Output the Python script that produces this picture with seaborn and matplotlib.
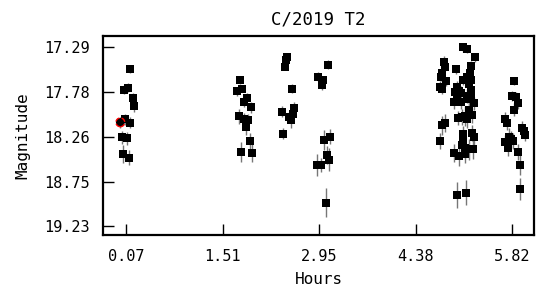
import numpy as np
import pandas as pd
import matplotlib
matplotlib.use("Agg")
import matplotlib.pyplot as plt
import seaborn as sns

hours = [
    0.13, 0.04, 0.10, 0.17, 0.19, 0.05, 0.13, 0.01, 0.08, 0.02, 0.11,
    1.76, 1.72, 1.80, 1.87, 1.82, 1.93, 1.75, 1.83, 1.89, 1.85, 1.92, 1.78, 1.95,
    2.47, 2.45, 2.44, 2.54, 2.39, 2.57, 2.50, 2.55, 2.53, 2.41,
    3.08, 2.93, 3.00, 2.98, 3.02, 3.11, 3.06, 3.09, 2.92, 2.97, 3.05,
    5.09, 5.15, 5.26, 4.80, 4.82, 4.98, 5.20, 4.78, 5.19, 4.76, 4.83, 5.09,
    5.15, 5.21, 5.18, 4.74, 4.78, 4.99, 5.20, 4.96, 5.03, 5.06, 4.99, 5.15,
    5.20, 5.17, 4.95, 5.05, 5.25, 5.17, 5.01, 5.07, 5.11, 5.22, 5.14, 4.82,
    4.77, 5.08, 5.22, 5.25, 4.74, 5.09, 5.07, 5.11, 5.18, 5.24, 4.95, 5.03,
    5.12, 4.99, 5.13,
    5.84, 5.81, 5.88, 5.91, 5.85, 5.71, 5.74, 5.97, 5.99, 6.01, 5.77, 5.80,
    5.83, 5.71, 5.75, 5.90, 5.93, 5.94,
]
mags = [
    17.53, 17.75, 17.73, 17.84, 17.93, 18.07, 18.11, 18.27, 18.28, 18.45, 18.49,
    17.65, 17.77, 17.74, 17.84, 17.88, 17.94, 18.04, 18.07, 18.08, 18.16, 18.31, 18.43, 18.44,
    17.40, 17.43, 17.50, 17.74, 17.99, 17.95, 18.05, 18.01, 18.08, 18.23,
    17.48, 17.61, 17.65, 17.70, 18.30, 18.26, 18.46, 18.51, 18.57, 18.57, 18.98,
    17.29, 17.31, 17.40, 17.45, 17.50, 17.53, 17.49, 17.57, 17.57, 17.61, 17.66, 17.65,
    17.61, 17.65, 17.69, 17.72, 17.74, 17.72, 17.75, 17.78, 17.76, 17.79, 17.81, 17.82,
    17.81, 17.85, 17.89, 17.89, 17.90, 17.97, 18.06, 18.05, 18.04, 18.03, 18.07, 18.11,
    18.14, 18.23, 18.22, 18.27, 18.31, 18.30, 18.35, 18.39, 18.40, 18.40, 18.44, 18.47,
    18.45, 18.90, 18.87,
    17.66, 17.82, 17.83, 17.90, 17.97, 18.07, 18.11, 18.17, 18.20, 18.24, 18.26, 18.29,
    18.31, 18.32, 18.38, 18.43, 18.57, 18.83,
]
errors = [
    0.04, 0.05, 0.05, 0.05, 0.06, 0.06, 0.06, 0.07, 0.07, 0.10, 0.08,
    0.04, 0.05, 0.04, 0.05, 0.06, 0.06, 0.08, 0.07, 0.07, 0.08, 0.09, 0.11, 0.10,
    0.03, 0.03, 0.04, 0.05, 0.06, 0.07, 0.06, 0.07, 0.09, 0.06,
    0.05, 0.05, 0.05, 0.05, 0.11, 0.08, 0.10, 0.12, 0.12, 0.08, 0.16,
    0.05, 0.04, 0.05, 0.06, 0.05, 0.05, 0.05, 0.06, 0.05, 0.05, 0.05, 0.05,
    0.05, 0.05, 0.06, 0.06, 0.06, 0.06, 0.07, 0.06, 0.07, 0.08, 0.07, 0.08,
    0.07, 0.07, 0.07, 0.07, 0.07, 0.08, 0.08, 0.09, 0.11, 0.08, 0.10, 0.10,
    0.10, 0.08, 0.09, 0.09, 0.09, 0.10, 0.10, 0.10, 0.11, 0.10, 0.10, 0.11,
    0.10, 0.14, 0.14,
    0.04, 0.05, 0.05, 0.06, 0.07, 0.08, 0.08, 0.08, 0.08, 0.07, 0.09, 0.09,
    0.09, 0.08, 0.09, 0.09, 0.11, 0.12,
]
# the one highlighted (comparison) point
hl_hour = [-0.015]
hl_mag = [18.106]

xticks = [0.07, 1.51, 2.95, 4.38, 5.82]
yticks = [17.29, 17.78, 18.26, 18.75, 19.23]

df = pd.DataFrame({"Hours": hours, "Magnitude": mags, "err": errors})

sns.set_style("ticks")
plt.rcParams["font.family"] = ["DejaVu Sans Mono", "DejaVu Sans"]
plt.rcParams["text.color"] = "black"
plt.rcParams["axes.labelcolor"] = "black"

fig = plt.figure(figsize=(5.37, 2.91), dpi=100)
ax = fig.add_axes([0.1924, 0.1924, 0.8020, 0.6849])

ax.errorbar(df["Hours"], df["Magnitude"], yerr=df["err"], fmt="none",
            ecolor="#777777", elinewidth=1.0, zorder=1)
sns.scatterplot(data=df, x="Hours", y="Magnitude", marker="s", s=34,
                color="black", edgecolor="black", linewidth=0, ax=ax, zorder=2)
ax.errorbar(hl_hour, hl_mag, yerr=[0.06], fmt="none", ecolor="#777777",
            elinewidth=1.0, zorder=1)
ax.scatter(hl_hour, hl_mag, marker="o", s=40, facecolor="black",
           edgecolor="red", linewidth=1.0, linestyle="--", zorder=3)

ax.set_xlim(-0.268, 6.143)
ax.set_ylim(19.331, 17.164)
ax.set_xticks(xticks)
ax.set_xticklabels([f"{t:.2f}" for t in xticks])
ax.set_yticks(yticks)
ax.set_yticklabels([f"{t:.2f}" for t in yticks])
ax.tick_params(direction="in", length=8, width=1, labelsize=11, pad=10,
               colors="black", bottom=True, left=True, top=False, right=False)
for sp in ax.spines.values():
    sp.set_visible(True)
    sp.set_linewidth(1.6)
    sp.set_color("black")

ax.set_title("C/2019 T2", fontsize=12.5, pad=8, color="black")
ax.set_xlabel("Hours", fontsize=11.5, labelpad=6)
ax.set_ylabel("Magnitude", fontsize=11.5, labelpad=10)

fig.savefig("out.png", dpi=100)
